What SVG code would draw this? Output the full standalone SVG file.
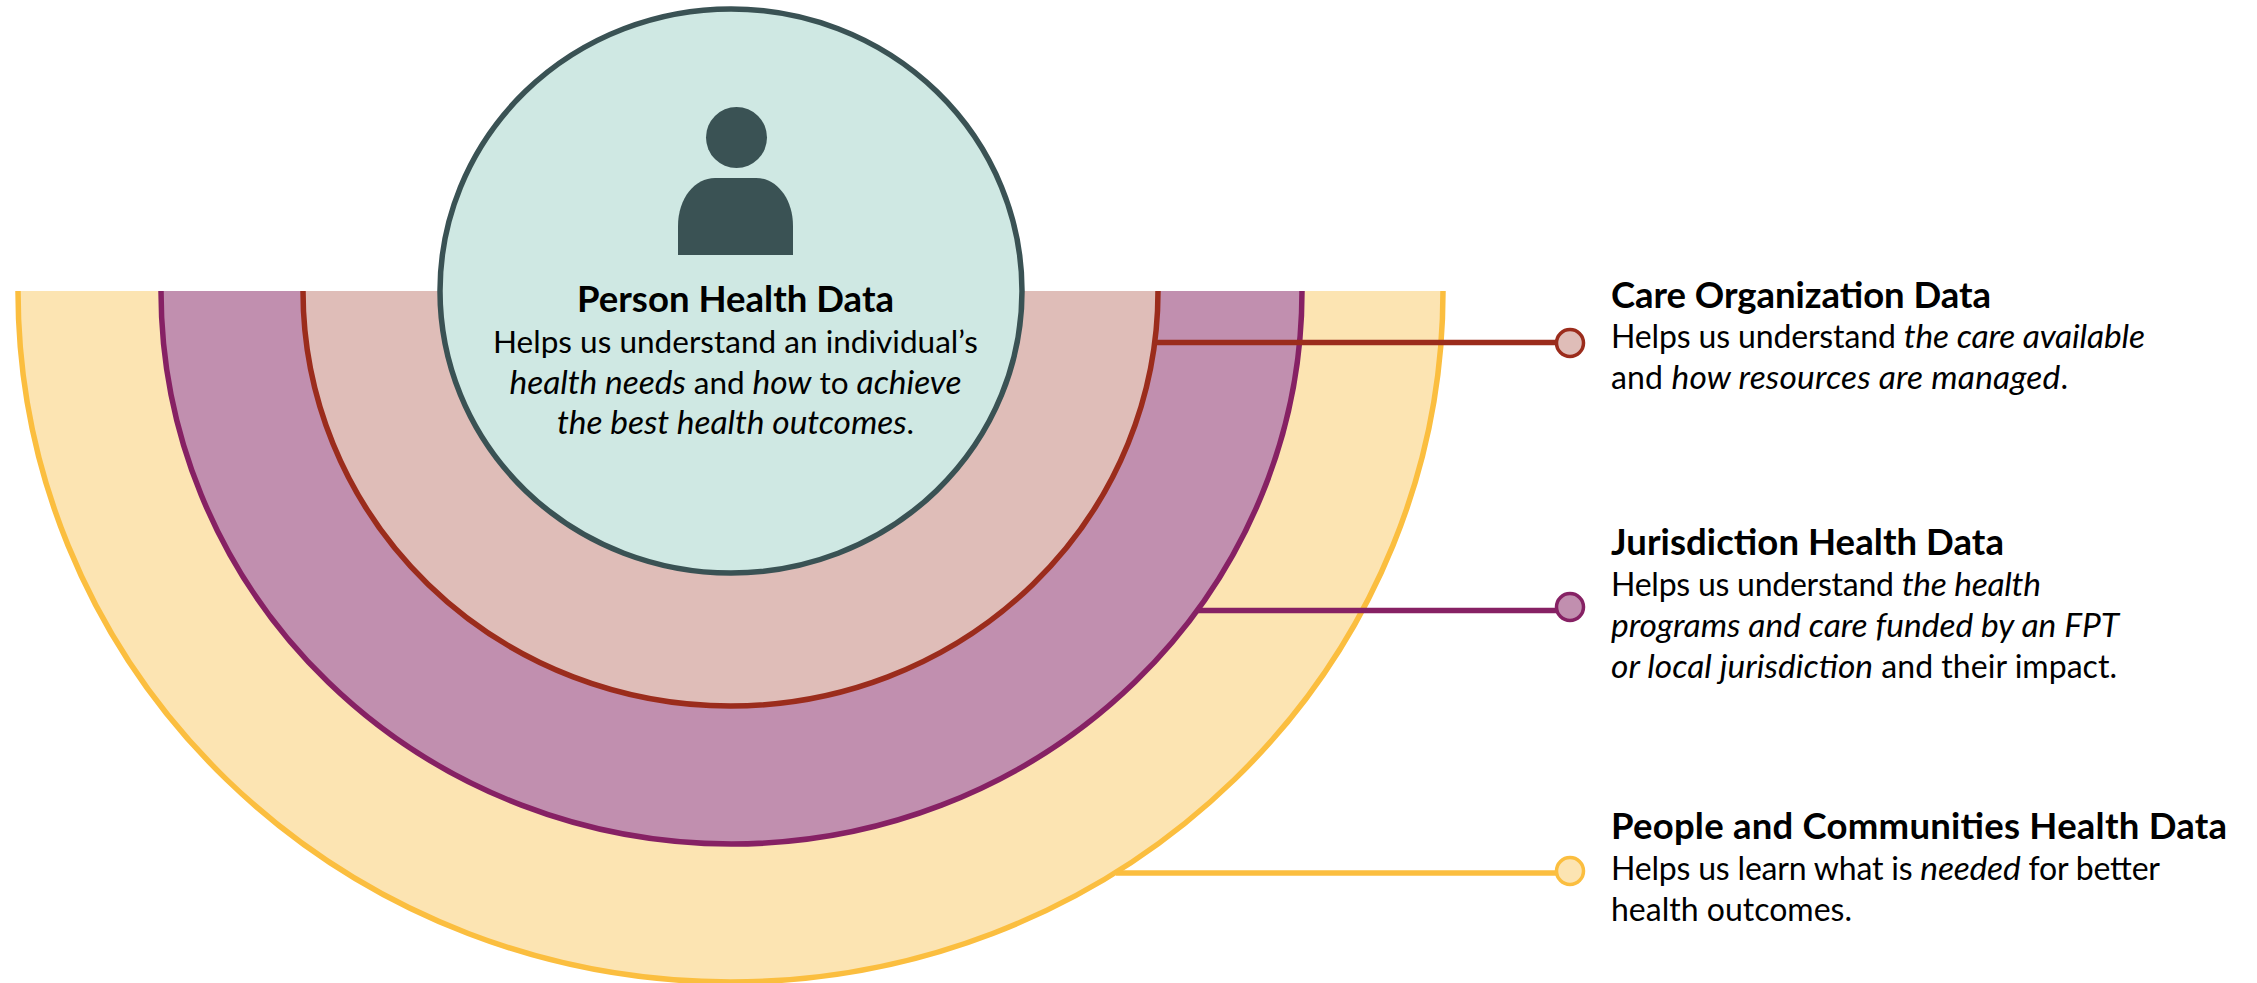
<svg xmlns="http://www.w3.org/2000/svg" width="2257" height="983" viewBox="0 0 2257 983">
<style>
text{font-family:"Lato","Open Sans","Liberation Sans",sans-serif;fill:#000}
.t{font-size:36.500px;font-weight:700}
.b{font-size:32px}
.m{font-size:31.500px}
.c{text-anchor:middle}
.i{font-style:italic;font-size:33.500px}
.conn{fill:none;stroke-width:5.500}
.dot{stroke-width:3.500}
.arc{fill:none;stroke-width:5.500}
</style>
<rect width="2257" height="983" fill="#fff"/>
<g id="ring-people"><path d="M18 291A712.500 691 0 0 0 1443 291Z" fill="#FCE4B2"/><path class="arc" d="M18 291A712.500 691 0 0 0 1443 291" stroke="#FBBE3F"/></g>
<g id="ring-jurisdiction"><path d="M161 291A570.500 553 0 0 0 1302 291Z" fill="#C18FAF"/><path class="arc" d="M161 291A570.500 553 0 0 0 1302 291" stroke="#862164"/></g>
<g id="ring-care"><path d="M303 291A427.500 415 0 0 0 1158 291Z" fill="#DFBDB8"/><path class="arc" d="M303 291A427.500 415 0 0 0 1158 291" stroke="#9B2C1C"/></g>
<g id="connectors">
<line class="conn" x1="1156" y1="342.500" x2="1560" y2="342.500" stroke="#9B2C1C"/>
<line class="conn" x1="1196" y1="610.500" x2="1560" y2="610.500" stroke="#862164"/>
<line class="conn" x1="1116" y1="873" x2="1560" y2="873" stroke="#FBBE3F"/>
</g>
<g id="person">
<ellipse cx="731" cy="291" rx="291" ry="282" fill="#CFE8E3" stroke="#3A5254" stroke-width="5.500"/>
<circle cx="736.500" cy="137.500" r="30.500" fill="#3A5254"/>
<path d="M678 255V226C678 198 695 178 715 178H756C776 178 793 198 793 226V255Z" fill="#3A5254"/>
<text class="t c" x="735.500" y="312" textLength="317">Person Health Data</text>
<text class="m c" x="735.500" y="353" textLength="485">Helps us understand an individual’s</text>
<text class="m c" x="735.500" y="394" textLength="452"><tspan class="i">health needs</tspan> and <tspan class="i">how</tspan> to <tspan class="i">achieve</tspan></text>
<text class="m c" x="735.500" y="434" textLength="357"><tspan class="i">the best health outcomes</tspan>.</text>
</g>
<g id="care">
<circle class="dot" cx="1570" cy="343" r="13.500" fill="#DFBDB8" stroke="#9B2C1C"/>
<text class="t" x="1611" y="308" textLength="380">Care Organization Data</text>
<text class="b" x="1611" y="348" textLength="534">Helps us understand <tspan class="i">the care available</tspan></text>
<text class="b" x="1611" y="389" textLength="457">and <tspan class="i">how resources are managed</tspan>.</text>
</g>
<g id="jurisdiction">
<circle class="dot" cx="1570" cy="607" r="13.500" fill="#C18FAF" stroke="#862164"/>
<text class="t" x="1611" y="555" textLength="393">Jurisdiction Health Data</text>
<text class="b" x="1611" y="596" textLength="430">Helps us understand <tspan class="i">the health</tspan></text>
<text class="b" x="1611" y="637" textLength="508"><tspan class="i">programs and care funded by an FPT</tspan></text>
<text class="b" x="1611" y="678" textLength="506"><tspan class="i">or local jurisdiction</tspan> and their impact.</text>
</g>
<g id="people">
<circle class="dot" cx="1570" cy="871" r="13.500" fill="#FCE4B2" stroke="#FBBE3F"/>
<text class="t" x="1611" y="839" textLength="616">People and Communities Health Data</text>
<text class="b" x="1611" y="880" textLength="549">Helps us learn what is <tspan class="i">needed</tspan> for better</text>
<text class="b" x="1611" y="921" textLength="241">health outcomes.</text>
</g>
</svg>
